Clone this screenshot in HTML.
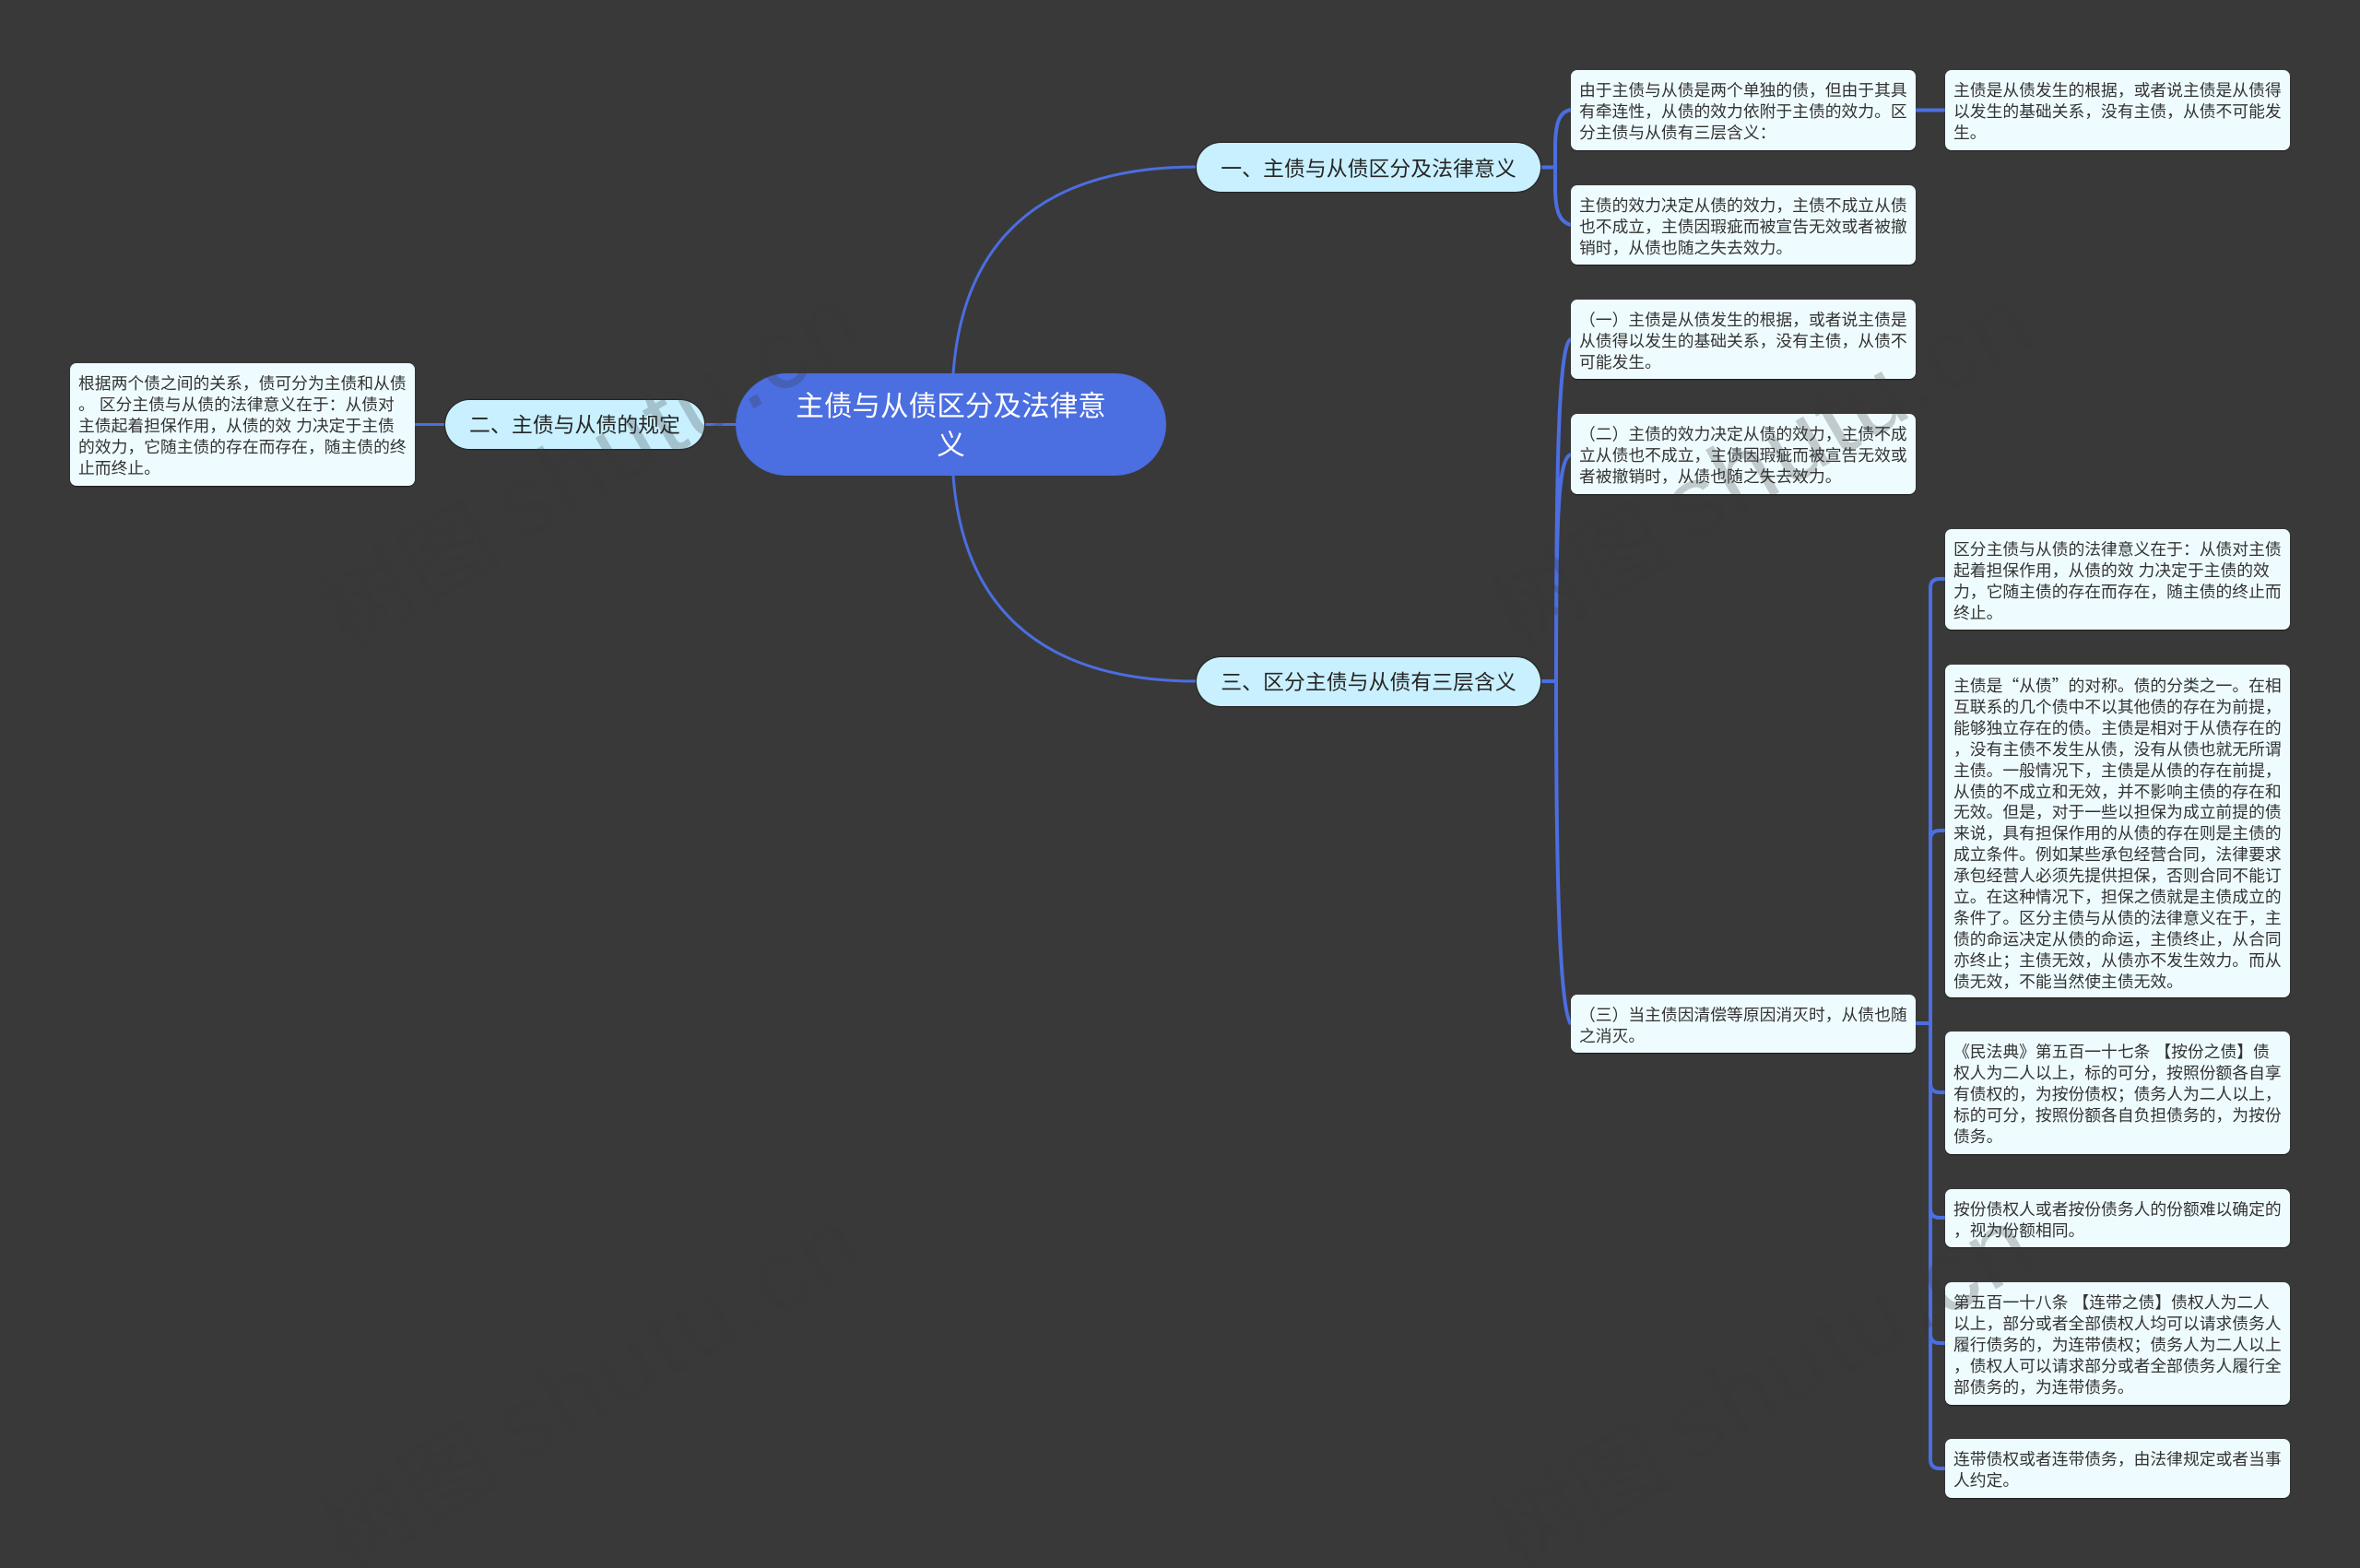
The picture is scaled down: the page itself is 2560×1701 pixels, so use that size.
<!DOCTYPE html>
<html lang="zh-CN"><head><meta charset="utf-8"><title>主债与从债区分及法律意义</title>
<style>
html,body{margin:0;padding:0;background:#3a393a}
body{position:relative;width:2560px;height:1701px;overflow:hidden;font-family:"Liberation Sans","Noto Sans CJK SC",sans-serif}
svg{position:absolute;left:0;top:0}
.b{position:absolute;box-sizing:border-box;width:373.5px;background:#effcff;border-radius:7px;padding:11px 0 0 9px;font-size:17.8px;line-height:22.9px;color:#333;white-space:nowrap;box-shadow:0 1px 1px #1d1d1d}
.p{position:absolute;box-sizing:border-box;background:#c9f0ff;border-radius:27px;font-size:22.9px;color:#262626;text-align:center;white-space:nowrap;box-shadow:0 0 1px 1px #222}
.r{position:absolute;box-sizing:border-box;left:798px;top:405px;width:467px;height:111px;border-radius:56px;background:#4b6ee0;color:#fff;font-size:30.6px;line-height:42px;text-align:center;padding-top:15px;white-space:nowrap}
</style></head><body>
<svg width="2560" height="1701" viewBox="0 0 2560 1701" fill="none" stroke="#4b6ee0">
<g stroke-width="3">
<path d="M1034 405C1044 270 1120 181 1298 181"/>
<path d="M1034 516C1044 650 1120 739 1298 739"/>
<path d="M450 460.500H483M763 460.500H798"/>
</g>
<g stroke-width="4">
<path d="M1671 181.500H1687M1704 119C1693 121 1687 130 1687 160V203C1687 232 1693 241 1704 244"/>
<path d="M2077 119.500H2110"/>
<path d="M1671 739H1688"/>
<path d="M1688 739C1688 520 1690 372 1704 368M1688 739C1688 560 1690 497 1704 493M1688 739C1688 960 1692 1095 1704 1111"/>
<path d="M2077 1110H2094"/>
<path d="M2110 628H2104Q2094 628 2094 638V1583Q2094 1593 2104 1593H2110"/>
<path d="M2094 911Q2094 901 2104 901H2110M2094 1175Q2094 1185 2104 1185H2110M2094 1311Q2094 1321 2104 1321H2110M2094 1447Q2094 1457 2104 1457H2110"/>
</g></svg>

<div class="r">主债与从债区分及法律意<br>义</div>
<div class="p" style="left:1298px;top:155px;width:373px;height:53px;line-height:56px">一、主债与从债区分及法律意义</div>
<div class="p" style="left:483px;top:434px;width:281px;height:53px;line-height:55px">二、主债与从债的规定</div>
<div class="p" style="left:1298px;top:713px;width:373px;height:53px;line-height:55px">三、区分主债与从债有三层含义</div>

<div class="b" style="left:76px;top:394px;height:133px">根据两个债之间的关系，债可分为主债和从债<br>。 区分主债与从债的法律意义在于：从债对<br>主债起着担保作用，从债的效 力决定于主债<br>的效力，它随主债的存在而存在，随主债的终<br>止而终止。</div>
<div class="b" style="left:1704px;top:76px;height:87px">由于主债与从债是两个单独的债，但由于其具<br>有牵连性，从债的效力依附于主债的效力。区<br>分主债与从债有三层含义：</div>
<div class="b" style="left:2110px;top:76px;height:87px">主债是从债发生的根据，或者说主债是从债得<br>以发生的基础关系，没有主债，从债不可能发<br>生。</div>
<div class="b" style="left:1704px;top:201px;height:86px">主债的效力决定从债的效力，主债不成立从债<br>也不成立，主债因瑕疵而被宣告无效或者被撤<br>销时，从债也随之失去效力。</div>
<div class="b" style="left:1704px;top:325px;height:86px">（一）主债是从债发生的根据，或者说主债是<br>从债得以发生的基础关系，没有主债，从债不<br>可能发生。</div>
<div class="b" style="left:1704px;top:449px;height:87px">（二）主债的效力决定从债的效力，主债不成<br>立从债也不成立，主债因瑕疵而被宣告无效或<br>者被撤销时，从债也随之失去效力。</div>
<div class="b" style="left:1704px;top:1079px;height:63px">（三）当主债因清偿等原因消灭时，从债也随<br>之消灭。</div>
<div class="b" style="left:2110px;top:574px;height:109px">区分主债与从债的法律意义在于：从债对主债<br>起着担保作用，从债的效 力决定于主债的效<br>力，它随主债的存在而存在，随主债的终止而<br>终止。</div>
<div class="b" style="left:2110px;top:721px;height:361px">主债是<span style="font-family:'Noto Sans CJK SC',sans-serif">“从债”</span>的对称。债的分类之一。在相<br>互联系的几个债中不以其他债的存在为前提，<br>能够独立存在的债。主债是相对于从债存在的<br>，没有主债不发生从债，没有从债也就无所谓<br>主债。一般情况下，主债是从债的存在前提，<br>从债的不成立和无效，并不影响主债的存在和<br>无效。但是，对于一些以担保为成立前提的债<br>来说，具有担保作用的从债的存在则是主债的<br>成立条件。例如某些承包经营合同，法律要求<br>承包经营人必须先提供担保，否则合同不能订<br>立。在这种情况下，担保之债就是主债成立的<br>条件了。区分主债与从债的法律意义在于，主<br>债的命运决定从债的命运，主债终止，从合同<br>亦终止；主债无效，从债亦不发生效力。而从<br>债无效，不能当然使主债无效。</div>
<div class="b" style="left:2110px;top:1119px;height:133px">《民法典》第五百一十七条 【按份之债】债<br>权人为二人以上，标的可分，按照份额各自享<br>有债权的，为按份债权；债务人为二人以上，<br>标的可分，按照份额各自负担债务的，为按份<br>债务。</div>
<div class="b" style="left:2110px;top:1290px;height:63px">按份债权人或者按份债务人的份额难以确定的<br>，视为份额相同。</div>
<div class="b" style="left:2110px;top:1391px;height:133px">第五百一十八条 【连带之债】债权人为二人<br>以上，部分或者全部债权人均可以请求债务人<br>履行债务的，为连带债权；债务人为二人以上<br>，债权人可以请求部分或者全部债务人履行全<br>部债务的，为连带债务。</div>
<div class="b" style="left:2110px;top:1561px;height:64px">连带债权或者连带债务，由法律规定或者当事<br>人约定。</div>

<svg width="2560" height="1701" viewBox="0 0 2560 1701" style="pointer-events:none">
<g fill="#373737" fill-opacity=".25" font-family="'Liberation Sans','Noto Sans CJK SC',sans-serif" font-size="110">
<text transform="translate(374 705) rotate(-30)" font-size="100">树图</text>
<text transform="translate(563 590) rotate(-30)" letter-spacing="3">shutu.cn</text>
<text transform="translate(374 1705) rotate(-30)" font-size="100">树图</text>
<text transform="translate(563 1590) rotate(-30)" letter-spacing="3">shutu.cn</text>
<text transform="translate(1644 705) rotate(-30)" font-size="100">树图</text>
<text transform="translate(1833 590) rotate(-30)" letter-spacing="3">shutu.cn</text>
<text transform="translate(1644 1705) rotate(-30)" font-size="100">树图</text>
<text transform="translate(1833 1590) rotate(-30)" letter-spacing="3">shutu.cn</text>
</g></svg>
</body></html>
